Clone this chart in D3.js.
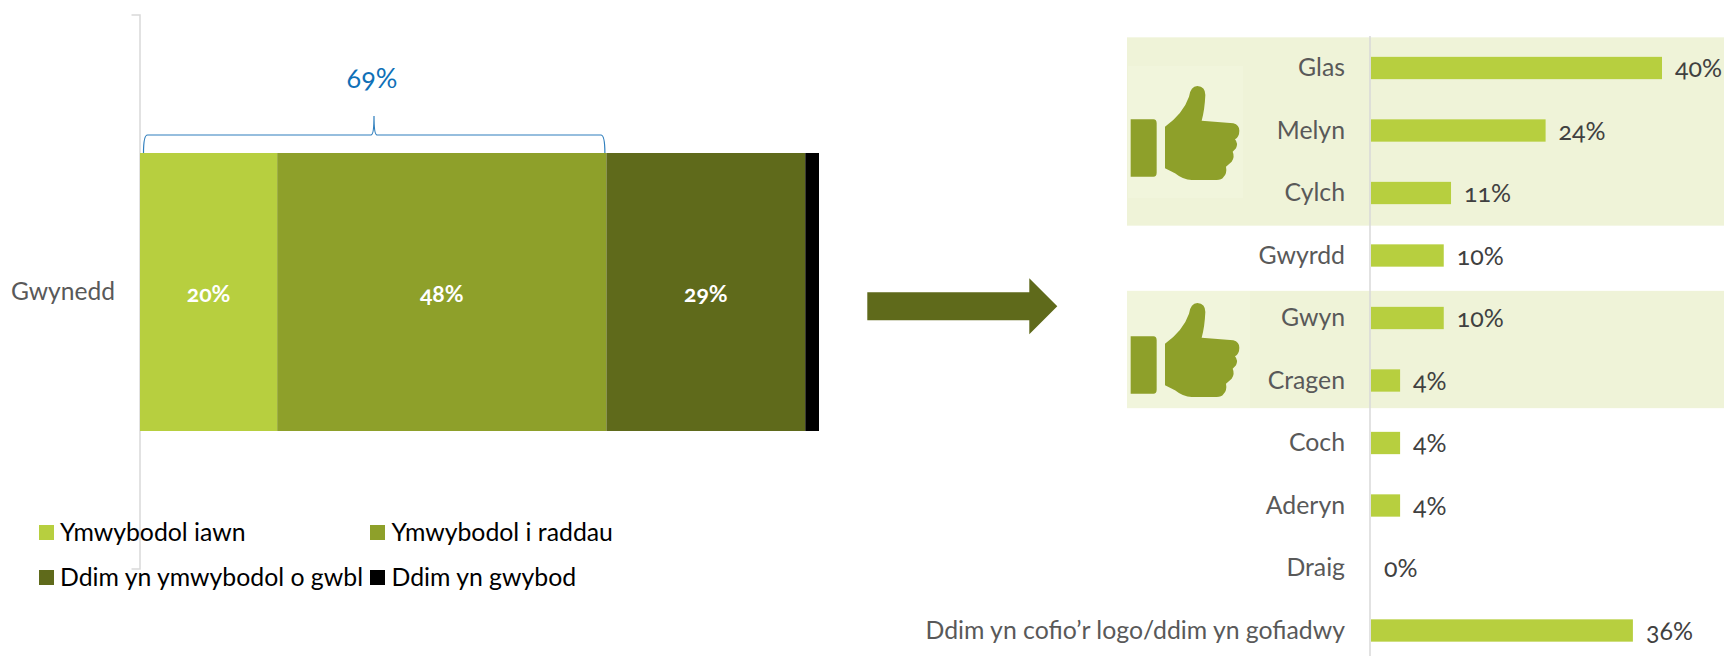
<!DOCTYPE html>
<html><head><meta charset="utf-8">
<script src="https://cdn.jsdelivr.net/npm/d3@7"></script>
<style>html,body{margin:0;padding:0;background:#fff}svg{display:block}text{font-family:Lato,"Open Sans",sans-serif;font-feature-settings:"onum" 1}</style>
</head><body><svg id="c" width="1724" height="656"></svg>
<script>
const awarenessCategory = "Gwynedd";
const awarenessSeries = ["Ymwybodol iawn","Ymwybodol i raddau","Ddim yn ymwybodol o gwbl","Ddim yn gwybod"];
const awarenessValues = [20,48,29,2];
const awarenessColors = ["#b7cf3f","#8ea02a","#5f6a1b","#000000"];
const bracketLabel = "69%";
const logoCategories = ["Glas","Melyn","Cylch","Gwyrdd","Gwyn","Cragen","Coch","Aderyn","Draig","Ddim yn cofio’r logo/ddim yn gofiadwy"];
const logoValues = [40,24,11,10,10,4,4,4,0,36];
const highlightGroups = [["Glas","Cylch"],["Gwyn","Cragen"]];

const svg = d3.select("#c");
const x = d3.scaleLinear().domain([0,d3.sum(awarenessValues)]).range([140,819]);
const y = d3.scaleBand().domain([awarenessCategory]).range([153,431]);
const gridC="#d9d9d9";
let acc=0;
const stack=awarenessValues.map((v,i)=>{const o={v,i,a:acc,b:acc+v};acc+=v;return o;});

// left axis
svg.append("path").attr("d","M131.5,15H140V569H131.5").attr("fill","none").attr("stroke",gridC).attr("stroke-width",1.5);

svg.append("g").selectAll("rect").data(stack).join("rect")
 .attr("x",d=>x(d.a)).attr("width",d=>x(d.b)-x(d.a)).attr("y",y(awarenessCategory)).attr("height",y.bandwidth()).attr("fill",d=>awarenessColors[d.i]);
svg.append("g").selectAll("text").data(stack.filter(d=>d.v>2)).join("text")
 .attr("x",d=>(x(d.a)+x(d.b))/2).attr("y",302).attr("text-anchor","middle").attr("fill","#fff").attr("font-weight",700).attr("font-size",23).text(d=>d.v+"%");
svg.append("text").attr("x",115).attr("y",300).attr("text-anchor","end").attr("fill","#595959").attr("font-size",24.6).text(awarenessCategory);

// brace
const bl=x(0)+3.5,br=x(68)-1.5,bm=374,by=135,bb=y(awarenessCategory),bt=116;
const brace=d3.path();
brace.moveTo(bl,bb);brace.quadraticCurveTo(bl,by,bl+4,by);brace.lineTo(bm-3,by);brace.quadraticCurveTo(bm,by,bm,bt);
brace.quadraticCurveTo(bm,by,bm+3,by);brace.lineTo(br-4,by);brace.quadraticCurveTo(br,by,br,bb);
svg.append("path").attr("d",brace.toString()).attr("fill","none").attr("stroke","#2e7ebd").attr("stroke-width",1.2);
svg.append("text").attr("x",372).attr("y",88).attr("text-anchor","middle").attr("fill","#0f70b7").attr("font-size",27).text(bracketLabel);

// legend
const legX=[39,370],legY=[525,570];
const leg=svg.append("g").selectAll("g").data(awarenessSeries).join("g")
 .attr("transform",(d,i)=>`translate(${legX[i%2]},${legY[i>>1]})`);
leg.append("rect").attr("width",15).attr("height",15).attr("fill",(d,i)=>awarenessColors[i]);
leg.append("text").attr("x",(d,i)=>i%2?21.5:21).attr("y",16).attr("fill","#000").attr("font-size",24.8).text(d=>d);

// arrow
svg.append("path").attr("d","M867.3,292.3H1029.3V278.3L1057.3,306.3L1029.3,334.3V320.3H867.3Z").attr("fill","#5f6a1b");

// right chart
const rx=d3.scaleLinear().domain([0,40]).range([1371,1662]);
const ry=d3.scaleBand().domain(logoCategories).range([36.75,661.75]).paddingInner(0.643).paddingOuter(0.3215);
const bandPad=[[19.5,21.5],[16,16.5]];
const bandRect=(d,i)=>({y0:ry(d[0])-bandPad[i][0],y1:ry(d[1])+ry.bandwidth()+bandPad[i][1]});
svg.append("g").selectAll("rect").data(highlightGroups).join("rect")
 .attr("x",1127).attr("width",597)
 .attr("y",(d,i)=>bandRect(d,i).y0)
 .attr("height",(d,i)=>bandRect(d,i).y1-bandRect(d,i).y0)
 .attr("fill","#eff3d8");
// lighter picture backgrounds behind the icons
svg.append("g").selectAll("rect").data([[1128,66,115,132],[1127,291,123,117]]).join("rect")
 .attr("x",d=>d[0]).attr("y",d=>d[1]).attr("width",d=>d[2]).attr("height",d=>d[3]).attr("fill","#f1f5dc");
svg.append("line").attr("x1",1370).attr("x2",1370).attr("y1",36).attr("y2",656).attr("stroke",gridC).attr("stroke-width",1.5);
svg.append("g").selectAll("rect").data(logoCategories).join("rect")
 .attr("x",rx(0)).attr("y",d=>ry(d)).attr("height",ry.bandwidth()).attr("width",(d,i)=>rx(logoValues[i])-rx(0)).attr("fill","#b7cf3f");
svg.append("g").selectAll("text").data(logoCategories).join("text")
 .attr("x",1345).attr("y",d=>ry(d)+ry.bandwidth()/2+8).attr("text-anchor","end").attr("fill","#595959").attr("font-size",24.8).text(d=>d);
svg.append("g").selectAll("text").data(logoCategories).join("text")
 .attr("x",(d,i)=>rx(logoValues[i])+13).attr("y",d=>ry(d)+ry.bandwidth()/2+9).attr("fill","#404040").attr("font-size",25).text((d,i)=>logoValues[i]+"%");

// thumbs
const thumb="M32,178H100Q110,178 110,190V338Q110,350 100,350H32Z M135,200Q190,160 207,110Q212,78 232,78Q256,80 256,105Q254,150 245,182L340,190Q358,195 358,212Q358,230 345,238Q355,250 348,265L338,275Q345,290 335,305L318,320Q322,340 310,352Q305,360 290,360L215,360Q190,360 165,340L135,325Z";
svg.append("g").selectAll("path").data([60,277]).join("path")
 .attr("d",thumb).attr("transform",d=>`translate(1120,${d}) scale(${1/3})`).attr("fill","#8ea02a");
</script></body></html>
